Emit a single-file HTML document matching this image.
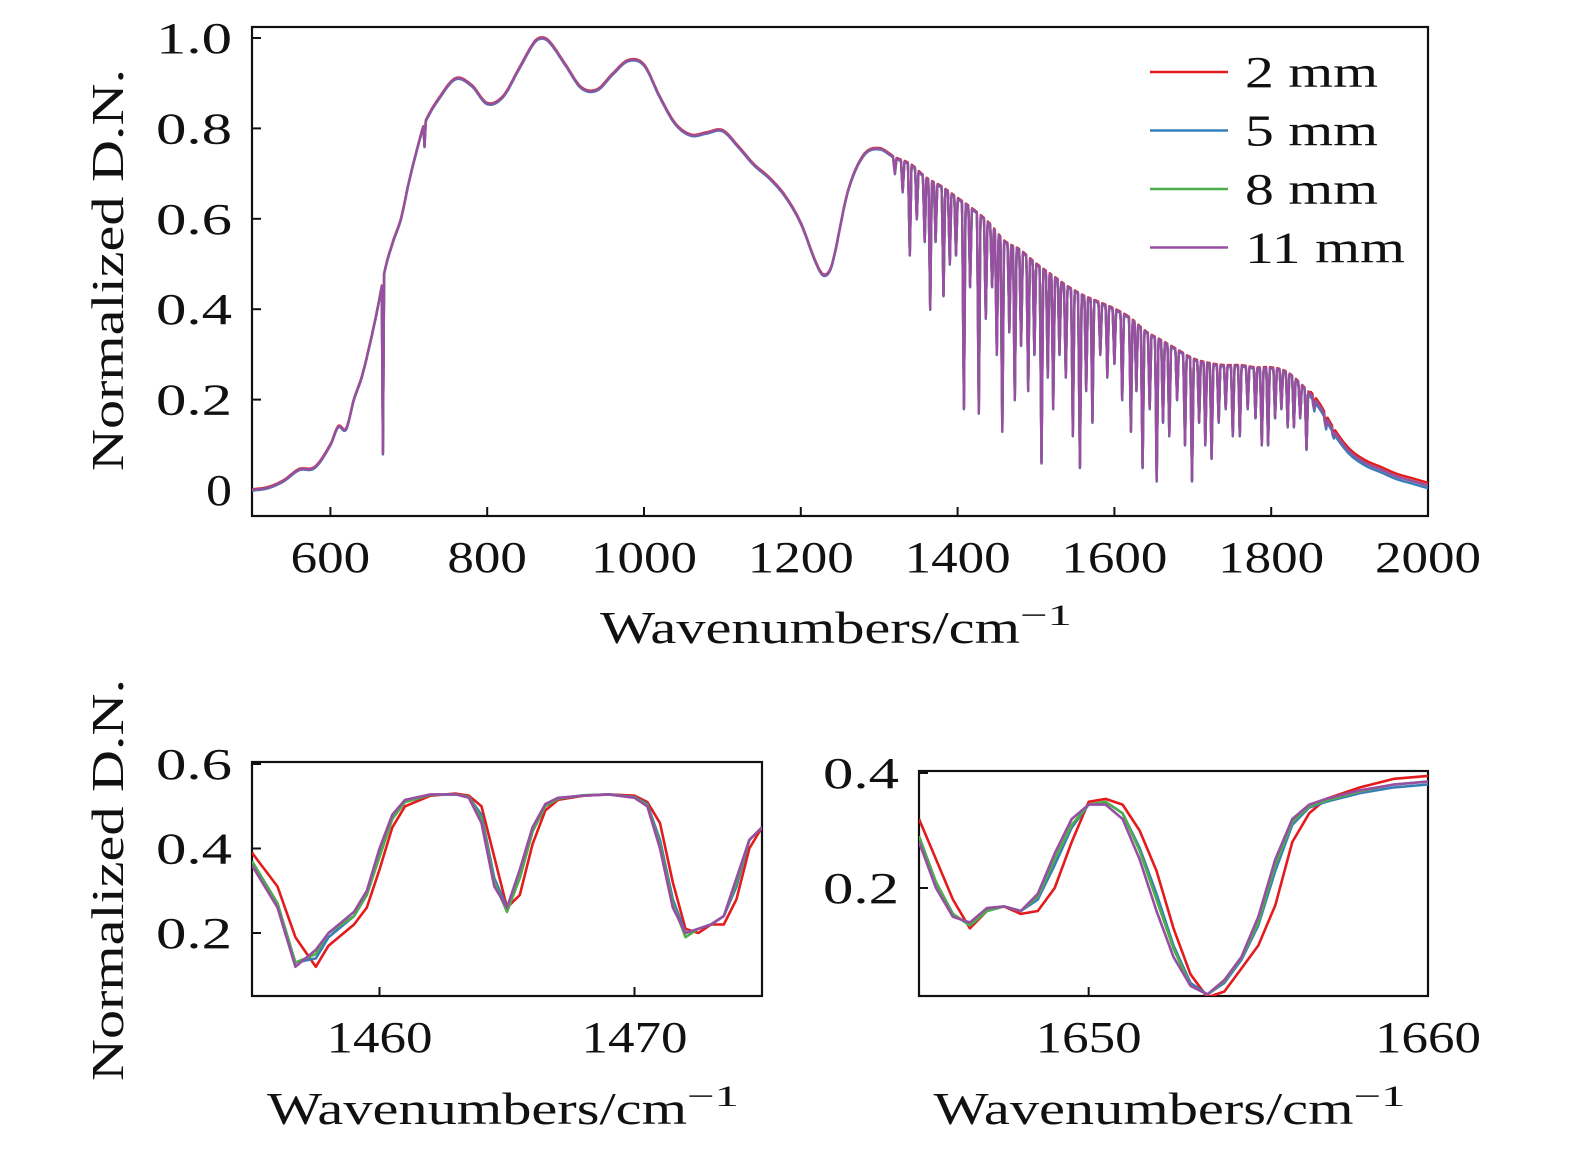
<!DOCTYPE html>
<html><head><meta charset="utf-8">
<style>
html,body{margin:0;padding:0;background:#fff;}
svg{display:block;}
text{font-family:"Liberation Serif",serif;fill:#111;}
</style></head>
<body>
<svg id="chart" width="1575" height="1154" viewBox="0 0 1575 1154">
<g id="main"></g>
<g id="zoom1"></g>
<g id="zoom2"></g>
</svg>
<script>
// ---- top panel data ----
const baseWn = [500,520,540,560,580,600,610,620,630,640,650,660,670,680,690,700,710,720,740,760,780,800,820,840,860,870,880,900,920,940,960,980,1000,1020,1040,1060,1080,1100,1120,1140,1160,1180,1200,1220,1230,1240,1260,1280,1300,1320,1340,1360,1380,1400,1420,1440,1460,1480,1500,1520,1540,1560,1580,1600,1620,1640,1660,1680,1700,1720,1740,1760,1780,1800,1820,1840,1860,1880,1900,1920,1940,1960,1980,2000];
const baseVal = [0.0,0.005,0.02,0.045,0.05,0.1,0.14,0.135,0.2,0.25,0.32,0.4,0.49,0.55,0.6,0.68,0.75,0.81,0.87,0.91,0.895,0.855,0.87,0.93,0.99,1.0,0.99,0.94,0.89,0.885,0.92,0.95,0.94,0.87,0.81,0.785,0.79,0.795,0.76,0.72,0.69,0.65,0.59,0.5,0.475,0.5,0.66,0.74,0.755,0.735,0.72,0.69,0.67,0.645,0.62,0.59,0.55,0.53,0.5,0.475,0.45,0.43,0.415,0.4,0.38,0.35,0.33,0.31,0.29,0.28,0.275,0.275,0.27,0.27,0.26,0.23,0.19,0.13,0.085,0.06,0.045,0.03,0.02,0.01];
const lineWn = [667,720,1320,1330,1339,1348,1358,1365,1372,1382,1390,1398,1408,1416,1427,1436,1444,1450,1457,1466,1473,1481,1490,1498,1507,1515,1522,1530,1538,1547,1556,1564,1572,1582,1591,1600,1610,1621,1628,1636,1645,1654,1662,1670,1680,1690,1699,1708,1716,1724,1733,1742,1751,1760,1770,1780,1788,1796,1805,1813,1821,1829,1837,1845,1855,1870,1880];
const lineMin = [0.08,0.76,0.7,0.66,0.52,0.6,0.55,0.4,0.55,0.43,0.5,0.52,0.18,0.45,0.17,0.38,0.45,0.3,0.13,0.35,0.2,0.32,0.22,0.3,0.06,0.25,0.18,0.3,0.25,0.12,0.05,0.22,0.15,0.3,0.25,0.28,0.2,0.13,0.22,0.05,0.18,0.02,0.15,0.12,0.2,0.1,0.02,0.15,0.1,0.07,0.15,0.18,0.12,0.12,0.18,0.16,0.1,0.1,0.16,0.18,0.14,0.14,0.16,0.09,0.18,0.14,0.12];
const seriesNames = ['2 mm','5 mm','8 mm','11 mm'];
const seriesColors = ['#e41a1c','#377eb8','#4daf4a','#984ea3'];
const seriesOffset = [0.0015,-0.0015,0.0,0.0];
const topXTicks = [600,800,1000,1200,1400,1600,1800,2000];
const topYTicks = [0,0.2,0.4,0.6,0.8,1.0];
const topYLabels = ['0','0.2','0.4','0.6','0.8','1.0'];

// ---- zoom panel 1 ----
const z1x = [1455,1456,1456.7,1457.5,1458,1459,1459.5,1460,1460.5,1461,1462,1463,1463.5,1464,1464.5,1465,1465.5,1466,1466.5,1467,1468,1469,1470,1470.5,1471,1471.5,1472,1472.5,1473,1473.5,1474,1474.5,1475];
const z1red =    [0.39,0.31,0.19,0.12,0.17,0.22,0.26,0.35,0.45,0.5,0.525,0.53,0.525,0.5,0.38,0.26,0.29,0.41,0.49,0.515,0.525,0.528,0.525,0.51,0.46,0.32,0.21,0.2,0.22,0.22,0.28,0.4,0.45];
const z1blue =   [0.37,0.27,0.13,0.14,0.19,0.24,0.29,0.39,0.47,0.51,0.527,0.528,0.522,0.48,0.33,0.26,0.33,0.44,0.5,0.518,0.526,0.528,0.522,0.505,0.42,0.28,0.2,0.21,0.22,0.24,0.31,0.42,0.45];
const z1green =  [0.37,0.27,0.13,0.15,0.2,0.24,0.29,0.38,0.47,0.51,0.527,0.528,0.522,0.47,0.32,0.25,0.33,0.44,0.5,0.518,0.526,0.528,0.521,0.503,0.41,0.27,0.19,0.21,0.22,0.24,0.32,0.42,0.45];
const z1purple = [0.36,0.26,0.12,0.16,0.2,0.25,0.3,0.4,0.48,0.515,0.528,0.528,0.52,0.46,0.31,0.26,0.35,0.45,0.505,0.52,0.525,0.528,0.52,0.5,0.4,0.26,0.2,0.21,0.22,0.24,0.33,0.42,0.45];
const z1XTicks = [1460,1470];
const z1YTicks = [0.2,0.4,0.6];

// ---- zoom panel 2 ----
const z2x = [1645,1645.5,1646,1646.5,1647,1647.5,1648,1648.5,1649,1649.5,1650,1650.5,1651,1651.5,1652,1652.5,1653,1653.5,1654,1654.5,1655,1655.5,1656,1656.5,1657,1658,1659,1660];
const z2red =    [0.32,0.25,0.18,0.13,0.16,0.168,0.155,0.16,0.2,0.28,0.35,0.355,0.345,0.3,0.23,0.13,0.05,0.01,0.02,0.06,0.1,0.17,0.28,0.33,0.355,0.375,0.39,0.395];
const z2blue =   [0.29,0.21,0.155,0.135,0.16,0.168,0.16,0.18,0.24,0.305,0.345,0.35,0.33,0.27,0.19,0.1,0.035,0.015,0.035,0.075,0.135,0.23,0.31,0.34,0.35,0.365,0.375,0.38];
const z2green =  [0.29,0.21,0.155,0.135,0.16,0.168,0.16,0.185,0.25,0.31,0.345,0.35,0.33,0.265,0.18,0.095,0.03,0.015,0.038,0.078,0.14,0.24,0.315,0.342,0.352,0.368,0.38,0.385];
const z2purple = [0.28,0.2,0.15,0.14,0.165,0.168,0.16,0.19,0.26,0.32,0.345,0.345,0.32,0.25,0.16,0.08,0.03,0.015,0.04,0.08,0.15,0.25,0.32,0.345,0.355,0.37,0.38,0.385];
const z2XTicks = [1650,1660];
const z2YTicks = [0.2,0.4];

const NS='http://www.w3.org/2000/svg';
function mk(parent,tag,attrs){const e=document.createElementNS(NS,tag);for(const k in attrs)e.setAttribute(k,attrs[k]);parent.appendChild(e);return e;}
// smooth (catmull-rom) interpolation of baseline
function interp(xs,ys,x){
  for(let i=0;i<xs.length-1;i++){
    if(x>=xs[i]&&x<=xs[i+1]){
      const t=(x-xs[i])/(xs[i+1]-xs[i]);
      const p0=ys[Math.max(0,i-1)],p1=ys[i],p2=ys[i+1],p3=ys[Math.min(ys.length-1,i+2)];
      const h0=xs[i]-xs[Math.max(0,i-1)]||1,h1=xs[i+1]-xs[i],h2=xs[Math.min(xs.length-1,i+2)]-xs[i+1]||1;
      const m1=(p2-p0)/(h0+h1)*h1, m2=(p3-p1)/(h1+h2)*h1;
      const t2=t*t,t3=t2*t;
      return (2*t3-3*t2+1)*p1+(t3-2*t2+t)*m1+(-2*t3+3*t2)*p2+(t3-t2)*m2;
    }}
  return ys[ys.length-1];
}
function label(g,x,y,str,size,anchor,len,name){
  const a={x:x,y:y,'text-anchor':anchor,'font-size':size};
  if(len){a.textLength=len;a.lengthAdjust='spacingAndGlyphs';}
  const t=mk(g,'text',a);t.textContent=str;
  
  
  return t;
}
function frame(g,L,T,R,B,xTicks,xLabels,xs,yTicks,yLabels,ys,prefix){
  const box=mk(g,'rect',{x:L,y:T,width:R-L,height:B-T,fill:'none',stroke:'#111','stroke-width':2.2});
  
  
  xTicks.forEach((v,i)=>{const x=xs(v);
    const t=mk(g,'line',{x1:x,x2:x,y1:B,y2:B-9,stroke:'#111','stroke-width':2});
    
    
    label(g,x,B+56,xLabels[i],44,'middle',xLabels[i].length*26.5,prefix+'-x-tick-label');
  });
  yTicks.forEach((v,i)=>{const y=ys(v);
    const t=mk(g,'line',{x1:L,x2:L+9,y1:y,y2:y,stroke:'#111','stroke-width':2});
    
    
    const s=yLabels[i];
    label(g,L-20,y+15,s,44,'end',s.length===1?26:76,prefix+'-y-tick-label');
  });
}
function xTitle(g,cx,y,prefix){
  const t=mk(g,'text',{x:cx-240,y:y,'font-size':46});
  t.innerHTML='<tspan textLength="420" lengthAdjust="spacingAndGlyphs">Wavenumbers/cm</tspan><tspan dy="-18" font-size="30" textLength="52" lengthAdjust="spacingAndGlyphs">−1</tspan>';
  
  
}
function yTitle(g,cx,cy,prefix){
  const t=mk(g,'text',{x:cx,y:cy,'text-anchor':'middle','font-size':46,textLength:402,lengthAdjust:'spacingAndGlyphs',transform:'rotate(-90 '+cx+' '+cy+')'});
  t.textContent='Normalized D.N.';
  
  
}

// ---- main panel ----
(function(){
  const g=document.getElementById('main');
  const L=252,R=1428,T=27,B=516;
  const xs=v=>L+(v-500)/1500*(R-L);
  const ys=v=>490-v*452;
  frame(g,L,T,R,B,topXTicks,topXTicks.map(String),xs,topYTicks,topYLabels,ys,'main');
  xTitle(g,840,643,'main');
  yTitle(g,123,270,'main');
  const clip=mk(g,'clipPath',{id:'c0'});mk(clip,'rect',{x:L,y:T,width:R-L,height:B-T});
  const legLen=[133,133,133,160];
  seriesNames.forEach((name,si)=>{
    let d='';
    for(let w=500;w<=2000;w+=0.5){
      let v=interp(baseWn,baseVal,w);
      for(let k=0;k<lineWn.length;k++){const dist=Math.abs(w-lineWn[k]);const wid=k<2?1.5:2.2;
        if(dist<wid){const b=interp(baseWn,baseVal,lineWn[k]);v=Math.min(v,b-(b-lineMin[k])*(1-dist/wid));}}
      v+=seriesOffset[si]*(w>1850?4:1);
      d+=(d?'L':'M')+xs(w).toFixed(1)+','+ys(v).toFixed(1);
    }
    const p=mk(g,'path',{d:d,fill:'none',stroke:seriesColors[si],'stroke-width':2.4,'clip-path':'url(#c0)','stroke-linejoin':'round'});
    
    
    const ly=72+si*58.5;
    const ll=mk(g,'line',{x1:1150,x2:1228,y1:ly,y2:ly,stroke:seriesColors[si],'stroke-width':2.6});
    
    
    label(g,1245,ly+15,name,44,'start',legLen[si],'legend-label-'+name.replace(' ','-'));
  });
})();

function zoomPanel(id,L,R,T,B,x0,x1,yf,xTicks,yTicks,xData,series,prefix){
  const g=document.getElementById(id);
  const xs=v=>L+(v-x0)/(x1-x0)*(R-L);
  frame(g,L,T,R,B,xTicks,xTicks.map(String),xs,yTicks,yTicks.map(v=>v.toFixed(1)),yf,prefix);
  const clip=mk(g,'clipPath',{id:'c'+id});mk(clip,'rect',{x:L,y:T,width:R-L,height:B-T});
  series.forEach((ys,si)=>{
    const d=xData.map((x,i)=>(i?'L':'M')+xs(x).toFixed(1)+','+yf(ys[i]).toFixed(1)).join('');
    const p=mk(g,'path',{d:d,fill:'none',stroke:seriesColors[si],'stroke-width':2.6,'clip-path':'url(#c'+id+')','stroke-linejoin':'round'});
    
    
  });
  xTitle(g,(L+R)/2,1124,prefix);
}
zoomPanel('zoom1',252,762,762,996,1455,1475,v=>764+(0.6-v)*422.5,z1XTicks,z1YTicks,z1x,[z1red,z1blue,z1green,z1purple],'zoom1');
yTitle(document.getElementById('zoom1'),123,880,'zoom1');
zoomPanel('zoom2',919,1428,771,996,1645,1660,v=>773+(0.4-v)*575,z2XTicks,z2YTicks,z2x,[z2red,z2blue,z2green,z2purple],'zoom2');
</script>
</body></html>
